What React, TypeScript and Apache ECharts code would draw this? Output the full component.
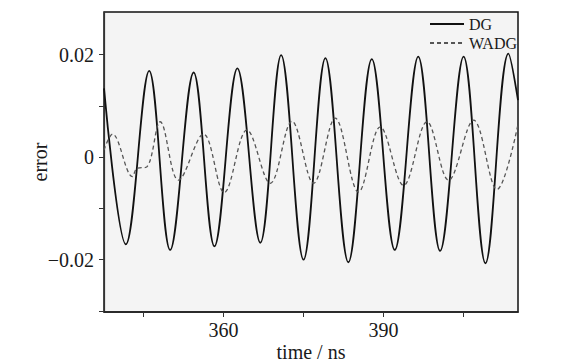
import React, { useEffect, useRef } from "react";
import * as echarts from "echarts";

// time (ns) and error values (peaks / troughs)
const dgTime = [337.6, 341.7, 346.07, 350.0, 354.4, 358.3, 362.6, 366.9, 370.8, 375.0, 379.1, 383.4, 387.8, 392.1, 396.5, 400.6, 405.0, 409.1, 413.4, 415.2];
const dgError = [0.0134, -0.017, 0.0168, -0.0181, 0.0165, -0.0174, 0.0173, -0.0167, 0.0199, -0.02, 0.0193, -0.0205, 0.0191, -0.0181, 0.0196, -0.0183, 0.0196, -0.0207, 0.0202, 0.0111];

const wadgTime = [337.6, 339.19, 342.94, 343.76, 345.64, 348.13, 351.56, 356.25, 360.13, 364.39, 368.76, 372.83, 376.88, 380.94, 385.31, 389.38, 393.75, 398.14, 402.19, 406.88, 411.26, 415.2];
const wadgError = [0.0014, 0.0045, -0.0038, -0.0022, -0.0019, 0.0069, -0.0045, 0.0045, -0.0069, 0.0053, -0.0051, 0.007, -0.0051, 0.0076, -0.0068, 0.0059, -0.0055, 0.0069, -0.0045, 0.0072, -0.0063, 0.0064];

const seriesNames = ["DG", "WADG"];
const xTickValues = [345, 360, 375, 390, 405];
const xLabelValues = [360, 390];
const yTickValues = [-0.03, -0.02, -0.01, 0, 0.01, 0.02];
const yLabelValues = [-0.02, 0, 0.02];

export default function App() {
  const ref = useRef<HTMLDivElement>(null);
  useEffect(() => {
    const chart = echarts.init(ref.current!, null, { renderer: "svg" });
    const font = "'Liberation Serif', 'Times New Roman', serif";
    const textColor = "#1a1a1a";
    chart.setOption({
      animation: false,
      backgroundColor: "#ffffff",
      grid: {
        left: 104,
        top: 12,
        right: 54,
        bottom: 52,
        show: true,
        outerBoundsMode: "none",
        containLabel: false,
        backgroundColor: "#f4f4f4",
        borderColor: "#111",
        borderWidth: 1.5,
      },
      legend: {
        data: seriesNames,
        orient: "vertical",
        right: 55,
        top: 16,
        padding: 0,
        itemWidth: 34,
        itemHeight: 14,
        itemGap: 3,
        itemStyle: { opacity: 0 },
        textStyle: { fontFamily: font, fontSize: 16, color: textColor },
      },
      xAxis: {
        type: "value",
        min: 337.6,
        max: 415.2,
        name: "time / ns",
        nameLocation: "middle",
        nameGap: 30,
        nameMoveOverlap: false,
        nameTextStyle: { fontFamily: font, fontSize: 20, lineHeight: 20, color: textColor },
        axisLine: { show: true, onZero: false, lineStyle: { color: "#222", width: 1.5 } },
        axisTick: {
          show: true,
          inside: false,
          length: 5,
          customValues: xTickValues,
          lineStyle: { color: "#333", width: 1 },
        },
        axisLabel: {
          customValues: xLabelValues,
          fontFamily: font,
          fontSize: 20,
          color: textColor,
          margin: 8,
        },
        splitLine: { show: false },
      },
      yAxis: {
        type: "value",
        min: -0.0302,
        max: 0.0283,
        name: "error",
        nameLocation: "middle",
        nameGap: 54,
        nameRotate: 90,
        nameMoveOverlap: false,
        nameTextStyle: { fontFamily: font, fontSize: 20, lineHeight: 20, color: textColor },
        axisLine: { show: true, onZero: false, lineStyle: { color: "#333", width: 1.2 } },
        axisTick: {
          show: true,
          inside: false,
          length: 5,
          customValues: yTickValues,
          lineStyle: { color: "#333", width: 1 },
        },
        axisLabel: {
          customValues: yLabelValues,
          fontFamily: font,
          fontSize: 20,
          color: textColor,
          margin: 10,
          formatter: (v: number) =>
            Math.abs(v) < 1e-9 ? "0" : (v < 0 ? "\u2212" : "") + Math.abs(v).toFixed(2),
        },
        splitLine: { show: false },
      },
      series: [
        {
          name: seriesNames[0],
          type: "line",
          data: dgTime.map((t, i) => [t, dgError[i]]),
          symbol: "none",
          smooth: 0.36,
          clip: true,
          lineStyle: { color: "#111", width: 1.8, type: "solid" },
          itemStyle: { color: "#111" },
        },
        {
          name: seriesNames[1],
          type: "line",
          data: wadgTime.map((t, i) => [t, wadgError[i]]),
          symbol: "none",
          smooth: 0.36,
          clip: true,
          lineStyle: { color: "#555", width: 1.3, type: [4, 3] },
          itemStyle: { color: "#555" },
        },
      ],
    });
    return () => chart.dispose();
  }, []);
  return (
    <div
      ref={ref}
      style={{ position: "fixed", left: 0, top: 0, width: 572, height: 364, background: "#fff" }}
    />
  );
}
